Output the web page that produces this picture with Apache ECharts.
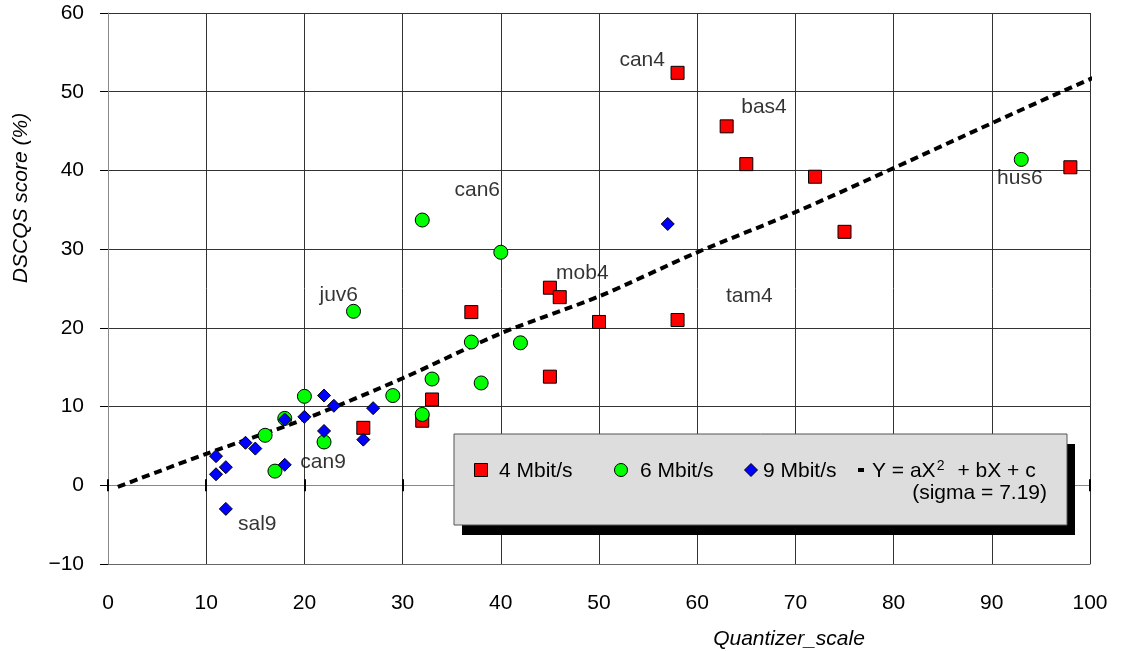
<!DOCTYPE html>
<html>
<head>
<meta charset="utf-8">
<script src="https://cdn.jsdelivr.net/npm/echarts@6/dist/echarts.min.js"></script>
<style>
html,body{margin:0;padding:0;background:#fff;}
#chart{width:1123px;height:651px;}
</style>
</head>
<body>
<div id="chart"></div>
<script>
// ---- data ----
const series4Name = '4 Mbit/s';
const series6Name = '6 Mbit/s';
const series9Name = '9 Mbit/s';
const fitName = 'Y = aX2  + bX + c';

const q4 = [58, 63, 65, 72, 75, 98, 45, 46, 37, 50, 58, 45, 33, 32, 26];
const s4 = [52.4, 45.6, 40.8, 39.2, 32.2, 40.4, 25.1, 23.9, 22.0, 20.75, 21.0, 13.8, 10.9, 8.2, 7.3];

const q6 = [32, 40, 25, 93, 37, 42, 33, 38, 29, 32, 20, 18, 16, 22, 17];
const s6 = [33.7, 29.6, 22.1, 41.4, 18.2, 18.1, 13.5, 13.0, 11.4, 9.0, 11.3, 8.5, 6.35, 5.5, 1.8];

const q9 = [57, 22, 23, 27, 18, 20, 14, 15, 22, 26, 11, 12, 11, 18, 12];
const s9 = [33.2, 11.4, 10.1, 9.8, 8.35, 8.7, 5.4, 4.66, 6.9, 5.8, 3.7, 2.3, 1.4, 2.6, -3.0];

// fitted curve
const fitQ = [1, 10, 20, 30, 40, 50, 60, 70, 80, 90, 100, 101];
const fitS = [-0.2, 4.0, 8.4, 13.6, 19.3, 24.0, 29.6, 34.7, 40.3, 46.0, 51.6, 52.0];

// point annotations
const labelNames = ['can4', 'bas4', 'can6', 'hus6', 'mob4', 'juv6', 'tam4', 'can9', 'sal9'];
const labelQ = [54.4, 66.8, 37.6, 92.85, 48.3, 23.5, 65.3, 21.9, 15.2];
const labelS = [54.0, 48.0, 37.5, 39.0, 26.9, 24.2, 24.0, 2.9, -5.0];

const xTicks = [0, 10, 20, 30, 40, 50, 60, 70, 80, 90, 100];
const yTicks = [-10, 0, 10, 20, 30, 40, 50, 60];
const sigmaText = '(sigma = 7.19)';
const xName = 'Quantizer_scale';
const yName = 'DSCQS score (%)';

// ---- chart ----
const FONT = '"Liberation Sans", Arial, sans-serif';
const FS = 21;
const pairs = (xs, ys) => xs.map((x, i) => [x, ys[i]]);

const chart = echarts.init(document.getElementById('chart'), null, {renderer: 'canvas'});

function measure(text, size) {
  const c = document.createElement('canvas').getContext('2d');
  c.font = size + 'px ' + FONT;
  return c.measureText(text).width;
}

const gridL = 108, gridT = 13, gridR = 1090, gridB = 564;
const yMin = yTicks[0], yMax = yTicks[yTicks.length - 1];
// pixel distance between the bottom edge and the zero line
const zeroOffset = -(gridB - gridT) * (0 - yMin) / (yMax - yMin);

const markerStyle = {borderColor: '#000', borderWidth: 1, opacity: 1};

// legend drawn as graphic
const lgX = 454, lgY = 434, lgW = 613, lgH = 91;
const row1 = 471, row2 = 493;
const fitLeft = 872;
const part1 = 'Y = aX';
const w1 = measure(part1, FS);
const wSup = measure('2', 14);
const legendGraphic = [
  {type: 'rect', shape: {x: lgX + 8, y: lgY + 10, width: lgW, height: lgH}, style: {fill: '#000'}, z: 100},
  {type: 'rect', shape: {x: lgX, y: lgY, width: lgW, height: lgH}, style: {fill: '#dddddd', stroke: '#555', lineWidth: 1}, z: 101},
  {type: 'rect', shape: {x: 474.5, y: 463.5, width: 13, height: 13}, style: {fill: '#ff0000', stroke: '#000', lineWidth: 1}, z: 102},
  {type: 'text', x: 499, y: row1, style: {text: series4Name, font: FS + 'px ' + FONT, fill: '#000', verticalAlign: 'middle', align: 'left'}, z: 102},
  {type: 'circle', shape: {cx: 621, cy: 470, r: 6.5}, style: {fill: '#00ff00', stroke: '#000', lineWidth: 1}, z: 102},
  {type: 'text', x: 640, y: row1, style: {text: series6Name, font: FS + 'px ' + FONT, fill: '#000', verticalAlign: 'middle', align: 'left'}, z: 102},
  {type: 'polygon', shape: {points: [[751, 463.5], [757.5, 470], [751, 476.5], [744.5, 470]]}, style: {fill: '#0000ff', stroke: '#000', lineWidth: 1}, z: 102},
  {type: 'text', x: 763, y: row1, style: {text: series9Name, font: FS + 'px ' + FONT, fill: '#000', verticalAlign: 'middle', align: 'left'}, z: 102},
  {type: 'rect', shape: {x: 858, y: 468, width: 6, height: 4}, style: {fill: '#000'}, z: 102},
  {type: 'text', x: fitLeft, y: row1, style: {text: part1, font: FS + 'px ' + FONT, fill: '#000', verticalAlign: 'middle', align: 'left'}, z: 102},
  {type: 'text', x: fitLeft + w1 + 1, y: row1 - 5, style: {text: '2', font: '14px ' + FONT, fill: '#000', verticalAlign: 'middle', align: 'left'}, z: 102},
  {type: 'text', x: fitLeft + w1 + 1 + wSup + 13, y: row1, style: {text: '+ bX + c', font: FS + 'px ' + FONT, fill: '#000', verticalAlign: 'middle', align: 'left'}, z: 102},
  {type: 'text', x: 1047, y: row2, style: {text: sigmaText, font: FS + 'px ' + FONT, fill: '#000', verticalAlign: 'middle', align: 'right'}, z: 102},
  // axis names
  {type: 'text', x: 789, y: 639, style: {text: xName, font: 'italic ' + FS + 'px ' + FONT, fill: '#000', verticalAlign: 'middle', align: 'center'}, z: 50},
  {type: 'text', x: 21, y: 198, rotation: Math.PI / 2, style: {text: yName, font: 'italic ' + FS + 'px ' + FONT, fill: '#000', verticalAlign: 'middle', align: 'center'}, z: 50}
];

const option = {
  backgroundColor: '#fff',
  animation: false,
  textStyle: {fontFamily: FONT},
  grid: {left: gridL, top: gridT, width: gridR - gridL, height: gridB - gridT, containLabel: false},
  xAxis: [
    {
      type: 'value', min: xTicks[0], max: xTicks[xTicks.length - 1], interval: 10,
      position: 'bottom',
      axisLine: {show: true, onZero: false, lineStyle: {color: '#666', width: 1}},
      axisTick: {show: false},
      axisLabel: {show: true, margin: 29, fontSize: FS, color: '#000', fontFamily: FONT},
      splitLine: {show: true, lineStyle: {color: '#333', width: 1}}
    },
    {
      type: 'value', min: xTicks[0], max: xTicks[xTicks.length - 1], interval: 10,
      position: 'bottom', offset: zeroOffset,
      axisLine: {show: true, onZero: false, lineStyle: {color: '#888', width: 1}},
      axisTick: {show: true, length: 6, inside: false, lineStyle: {color: '#000', width: 2}},
      axisLabel: {show: false},
      splitLine: {show: false}
    },
    {
      type: 'value', min: xTicks[0], max: xTicks[xTicks.length - 1], interval: 10,
      position: 'bottom', offset: zeroOffset,
      axisLine: {show: false, onZero: false},
      axisTick: {show: true, length: 6, inside: true, lineStyle: {color: '#000', width: 2}},
      axisLabel: {show: false},
      splitLine: {show: false}
    }
  ],
  yAxis: [
    {
      type: 'value', min: yMin, max: yMax, interval: 10,
      position: 'left',
      axisLine: {show: true, onZero: false, lineStyle: {color: '#888', width: 1}},
      axisTick: {show: true, length: 8, inside: false, lineStyle: {color: '#000', width: 1}},
      axisLabel: {show: true, margin: 24, fontSize: FS, color: '#000', fontFamily: FONT,
        formatter: v => String(v).replace('-', '\u2212')},
      splitLine: {show: true, lineStyle: {color: '#333', width: 1}}
    }
  ],
  series: [
    {
      name: fitName, type: 'line', xAxisIndex: 0, yAxisIndex: 0,
      data: pairs(fitQ, fitS), smooth: 0.3, showSymbol: false, symbol: 'none', clip: false,
      lineStyle: {color: '#000', width: 4, type: [8, 5]}, z: 3
    },
    {
      name: series4Name, type: 'scatter', xAxisIndex: 0, yAxisIndex: 0,
      data: pairs(q4, s4), symbol: 'rect', symbolSize: 13,
      itemStyle: Object.assign({color: '#ff0000'}, markerStyle), z: 4
    },
    {
      name: series6Name, type: 'scatter', xAxisIndex: 0, yAxisIndex: 0,
      data: pairs(q6, s6), symbol: 'circle', symbolSize: 14,
      itemStyle: Object.assign({color: '#00ff00'}, markerStyle), z: 5
    },
    {
      name: series9Name, type: 'scatter', xAxisIndex: 0, yAxisIndex: 0,
      data: pairs(q9, s9), symbol: 'diamond', symbolSize: 13,
      itemStyle: Object.assign({color: '#0000ff'}, markerStyle), z: 6
    },
    {
      name: 'labels', type: 'scatter', xAxisIndex: 0, yAxisIndex: 0,
      data: labelQ.map((x, i) => ({value: [x, labelS[i]], name: labelNames[i]})),
      symbol: 'circle', symbolSize: 1, itemStyle: {color: 'rgba(0,0,0,0)'},
      label: {show: true, position: 'inside', formatter: p => p.name, fontSize: FS, color: '#000', fontFamily: FONT},
      silent: true, z: 7
    }
  ],
  graphic: legendGraphic
};

chart.setOption(option);
</script>
</body>
</html>
